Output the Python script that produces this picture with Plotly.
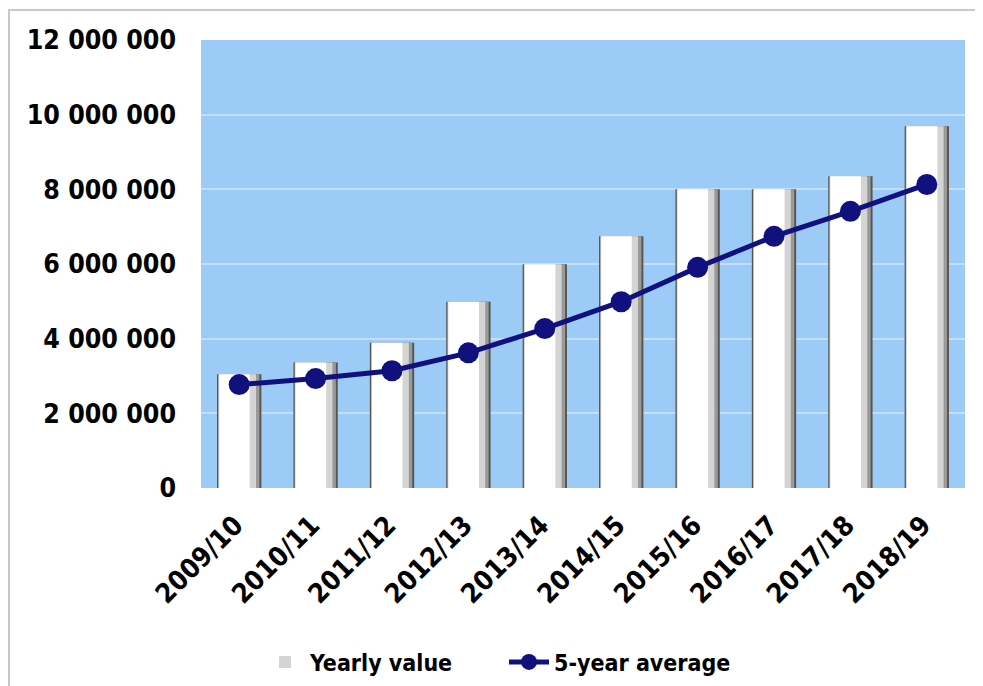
import plotly.graph_objects as go

categories = ["2009/10", "2010/11", "2011/12", "2012/13", "2013/14",
              "2014/15", "2015/16", "2016/17", "2017/18", "2018/19"]
yearly_value = [3050000, 3360000, 3890000, 4990000, 5990000,
                6740000, 8000000, 8000000, 8350000, 9690000]
five_year_avg = [2770000, 2930000, 3140000, 3620000, 4270000,
                 4990000, 5910000, 6740000, 7410000, 8130000]
y_ticks = [0, 2000000, 4000000, 6000000, 8000000, 10000000, 12000000]
y_tick_labels = ["0", "2 000 000", "4 000 000", "6 000 000",
                 "8 000 000", "10 000 000", "12 000 000"]

FONT = "DejaVu Sans Condensed, DejaVu Sans, sans-serif"

# figure-pixel geometry (page has an 8px body offset)
L, T, PW, PH = 193, 32, 764, 448
W, H = 983, 686

fig = go.Figure()

# layered bars to imitate the shaded cylinder look
layers = [
    (0.58, -0.29, "#55554c", False),
    (0.54, -0.275, "#9a9a9a", False),
    (0.49, -0.27, "#d4d4d4", True),
    (0.40, -0.262, "#ffffff", False),
]
for w, off, col, show in layers:
    fig.add_trace(go.Bar(
        x=categories, y=yearly_value, width=w, offset=off,
        marker=dict(color=col, line=dict(width=0)),
        name="Yearly value", showlegend=show,
    ))

fig.add_trace(go.Scatter(
    x=categories, y=five_year_avg, mode="lines+markers",
    name="5-year average",
    line=dict(color="#10107f", width=5),
    marker=dict(color="#10107f", size=21, symbol="circle"),
))

fig.update_layout(
    width=W, height=H,
    margin=dict(l=L, r=W - L - PW, t=T, b=H - T - PH, autoexpand=False),
    paper_bgcolor="white",
    plot_bgcolor="#9dcbf8",
    barmode="overlay",
    font=dict(family=FONT, color="black", size=26),
    legend=dict(
        orientation="h", x=(252 - L) / PW, xanchor="left",
        y=-(654 - (T + PH)) / PH, yanchor="middle",
        font=dict(family=FONT, size=23, color="black", weight="bold"),
        bgcolor="rgba(0,0,0,0)", itemwidth=40,
        entrywidth=189, entrywidthmode="pixels",
    ),
    shapes=[dict(
        type="rect", xref="paper", yref="paper",
        x0=(1 - L) / PW, x1=1.2, y0=-0.6, y1=(T + PH - 2) / PH,
        line=dict(color="#c8c8c8", width=2), fillcolor="rgba(0,0,0,0)", layer="below",
    )],
)

fig.update_xaxes(
    type="category", tickangle=-45, showgrid=False, zeroline=False,
    showline=False, ticks="", ticklabelstandoff=15, ticklabelshift=-4,
    tickfont=dict(family=FONT, size=27, color="black", weight="bold"),
    range=[-0.5, 9.5],
)
fig.update_yaxes(
    range=[0, 12000000], tickvals=y_ticks, ticktext=y_tick_labels,
    showgrid=True, gridcolor="#c4defa", gridwidth=1.5, zeroline=False,
    showline=False, ticks="", ticklabelstandoff=24,
    tickfont=dict(family=FONT, size=26.5, color="black", weight="bold"),
)

fig.write_html("out.html")
